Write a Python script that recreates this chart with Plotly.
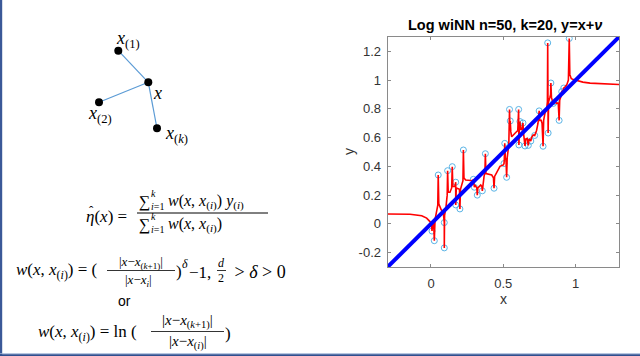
import plotly.graph_objects as go

# ---------------- data ----------------
pts_x = [0.007, 0.023, 0.050, 0.092, 0.092, 0.115, 0.147, 0.171, 0.171, 0.200,
         0.224, 0.293, 0.300, 0.320, 0.355, 0.376, 0.436, 0.505, 0.510, 0.523,
         0.543, 0.548, 0.606, 0.608, 0.615, 0.636, 0.650, 0.673, 0.690, 0.717,
         0.748, 0.775, 0.807, 0.810, 0.829, 0.846, 0.860, 0.886, 0.904, 0.918,
         0.956]
pts_y = [-0.050, -0.117, 0.340, 0.009, -0.167, 0.370, 0.398, 0.290, 0.132, 0.104,
         0.514, 0.310, 0.255, 0.200, 0.230, 0.488, 0.248, 0.420, 0.560, 0.324,
         0.796, 0.716, 0.796, 0.549, 0.712, 0.702, 0.542, 0.546, 0.576, 0.615,
         0.786, 0.540, 1.259, 0.632, 0.980, 0.838, 0.850, 0.720, 0.920, 0.945,
         1.290]

# Log wiNN estimate (red curve), vertices
fit_x = [-0.300, -0.200, -0.145, -0.064, -0.030, -0.007, 0.003, 0.007, 0.011, 0.018,
         0.023, 0.028, 0.040, 0.047, 0.050, 0.054, 0.070, 0.085, 0.092, 0.092,
         0.094, 0.104, 0.112, 0.115, 0.119, 0.131, 0.143, 0.147, 0.151, 0.165,
         0.171, 0.171, 0.175, 0.197, 0.200, 0.204, 0.215, 0.221, 0.224, 0.228,
         0.240, 0.270, 0.290, 0.293, 0.297, 0.300, 0.305, 0.317, 0.320, 0.324,
         0.344, 0.352, 0.355, 0.359, 0.367, 0.373, 0.376, 0.380, 0.420, 0.432,
         0.436, 0.440, 0.450, 0.477, 0.500, 0.505, 0.507, 0.510, 0.514, 0.519,
         0.523, 0.527, 0.538, 0.543, 0.546, 0.548, 0.552, 0.558, 0.581, 0.600,
         0.606, 0.607, 0.608, 0.611, 0.615, 0.619, 0.627, 0.632, 0.636, 0.640,
         0.645, 0.650, 0.655, 0.665, 0.673, 0.678, 0.686, 0.690, 0.695, 0.707,
         0.717, 0.722, 0.730, 0.740, 0.748, 0.752, 0.762, 0.768, 0.775, 0.779,
         0.788, 0.800, 0.805, 0.807, 0.809, 0.810, 0.813, 0.822, 0.827, 0.829,
         0.833, 0.844, 0.846, 0.852, 0.860, 0.866, 0.880, 0.886, 0.890, 0.900,
         0.904, 0.910, 0.918, 0.925, 0.940, 0.950, 0.956, 0.960, 0.970, 0.985,
         1.005, 1.050, 1.100, 1.190, 1.300]
fit_y = [0.069, 0.068, 0.067, 0.056, 0.040, 0.016, 0.000, -0.050, 0.000, 0.020,
         -0.117, 0.030, 0.110, 0.130, 0.340, 0.140, 0.100, 0.080, 0.009, -0.167,
         0.060, 0.120, 0.200, 0.370, 0.220, 0.220, 0.250, 0.398, 0.260, 0.260,
         0.290, 0.132, 0.250, 0.240, 0.104, 0.240, 0.270, 0.300, 0.514, 0.320,
         0.305, 0.305, 0.300, 0.310, 0.280, 0.255, 0.270, 0.250, 0.200, 0.250,
         0.270, 0.260, 0.230, 0.280, 0.330, 0.360, 0.488, 0.350, 0.340, 0.320,
         0.248, 0.330, 0.350, 0.400, 0.410, 0.420, 0.450, 0.560, 0.460, 0.440,
         0.324, 0.460, 0.550, 0.796, 0.650, 0.716, 0.640, 0.606, 0.630, 0.650,
         0.796, 0.650, 0.549, 0.660, 0.712, 0.660, 0.653, 0.670, 0.702, 0.630,
         0.595, 0.542, 0.590, 0.595, 0.546, 0.590, 0.583, 0.576, 0.600, 0.618,
         0.615, 0.630, 0.650, 0.700, 0.786, 0.720, 0.720, 0.700, 0.540, 0.720,
         0.770, 0.800, 0.850, 1.259, 0.860, 0.632, 0.850, 0.880, 0.900, 0.980,
         0.880, 0.840, 0.838, 0.840, 0.850, 0.840, 0.840, 0.720, 0.860, 0.890,
         0.920, 0.920, 0.945, 0.950, 0.970, 1.000, 1.290, 1.040, 1.010, 1.005,
         0.998, 0.986, 0.979, 0.974, 0.970]

truth_x = [-0.3, 1.3]          # y = x reference line
truth_y = [-0.3, 1.3]

x_ticks = [0, 0.5, 1]
x_tick_labels = ["0", "0.5", "1"]
y_ticks = [-0.2, 0, 0.2, 0.4, 0.6, 0.8, 1.0, 1.2]
y_tick_labels = ["-0.2", "0", "0.2", "0.4", "0.6", "0.8", "1", "1.2"]

# sketch of neighbours (slide pixel coordinates): centre x, then x(1), x(2), x(k)
node_x = [148.3, 118.3, 99.0, 157.0]
node_y = [82.3, 50.7, 102.3, 128.3]

W, H = 640, 356
fig = go.Figure()

# ---------------- right: the Matlab plot ----------------
fig.add_trace(go.Scatter(x=pts_x, y=pts_y, mode="markers",
                         marker=dict(symbol="circle-open", size=6,
                                     color="#5AB4E6", line=dict(width=1)),
                         hoverinfo="skip", showlegend=False))
fig.add_trace(go.Scatter(x=fit_x, y=fit_y, mode="lines",
                         line=dict(color="#FF0000", width=1.6),
                         hoverinfo="skip", showlegend=False))
fig.add_trace(go.Scatter(x=truth_x, y=truth_y, mode="lines",
                         line=dict(color="#0000FF", width=4),
                         hoverinfo="skip", showlegend=False))

# ---------------- left: neighbour sketch ----------------
edge_x, edge_y = [], []
for i in range(1, len(node_x)):
    edge_x += [node_x[0], node_x[i], None]
    edge_y += [node_y[0], node_y[i], None]
fig.add_trace(go.Scatter(x=edge_x, y=edge_y, xaxis="x2", yaxis="y2", mode="lines",
                         line=dict(color="#5B9BD5", width=1.2),
                         hoverinfo="skip", showlegend=False))
fig.add_trace(go.Scatter(x=node_x, y=node_y, xaxis="x2", yaxis="y2", mode="markers",
                         marker=dict(color="black", size=8),
                         hoverinfo="skip", showlegend=False))

axis_col = "#8A8A8A"
tick_font = dict(family="Liberation Sans, Arial, sans-serif", size=13, color="#333333")
x0p, x1p, y0p, y1p = 387.6, 619.0, 37.0, 267.0
fig.update_layout(
    width=W, height=H, margin=dict(l=0, r=0, t=0, b=0),
    paper_bgcolor="white", plot_bgcolor="rgba(0,0,0,0)",
    showlegend=False,
    xaxis=dict(domain=[x0p / W, x1p / W], range=[-0.3, 1.3], anchor="y",
               tickvals=x_ticks, ticktext=x_tick_labels, ticks="inside", ticklen=3,
               tickcolor=axis_col, showline=True, linecolor=axis_col, linewidth=1,
               mirror="ticks", showgrid=False, zeroline=False, tickfont=tick_font,
               ticklabelstandoff=4),
    yaxis=dict(domain=[1 - y1p / H, 1 - y0p / H], range=[-0.3, 1.3], anchor="x",
               tickvals=y_ticks, ticktext=y_tick_labels, ticks="inside", ticklen=3,
               tickcolor=axis_col, showline=True, linecolor=axis_col, linewidth=1,
               mirror="ticks", showgrid=False, zeroline=False, tickfont=tick_font,
               ticklabelstandoff=3),
    xaxis2=dict(domain=[0, 1], range=[0, W], anchor="y2", visible=False),
    yaxis2=dict(domain=[0, 1], range=[H, 0], anchor="x2", visible=False),
)

serif = "Liberation Serif, Times New Roman, serif"
sans = "Liberation Sans, Arial, sans-serif"
ann = []


def txt(x, y, s, size=17, anchor="left", family=serif, color="black"):
    ann.append(dict(x=x, y=y, xref="x2", yref="y2", text=s, showarrow=False,
                    xanchor=anchor, yanchor="middle",
                    font=dict(family=family, size=size, color=color)))


shapes = []


def bar(xa, xb, y, w=1):
    shapes.append(dict(type="line", xref="x2", yref="y2", x0=xa, x1=xb, y0=y, y1=y,
                       line=dict(color="black", width=w)))


# plot title and axis labels
txt(505, 25, "<b>Log wiNN n=50, k=20, y=x+<i>ν</i></b>", 14.5, "center", sans, "black")
txt(503, 299, "x", 14, "center", sans, "#333333")
ann.append(dict(x=349, y=152, xref="x2", yref="y2", text="y", showarrow=False,
                textangle=-90, xanchor="center", yanchor="middle",
                font=dict(family=sans, size=14, color="#333333")))

# sketch labels
txt(128, 39, "<i>x</i><sub>(1)</sub>", 18, "center")
txt(157, 93, "<i>x</i>", 18, "center")
txt(100, 114, "<i>x</i><sub>(2)</sub>", 18, "center")
txt(176, 134, "<i>x</i><sub>(<i>k</i>)</sub>", 18, "center")

# formula 1
txt(84, 216, "<i>η</i>(<i>x</i>) =", 17)
txt(91, 210, "ˆ", 13, "center")
for yy in (202, 225):
    txt(137, yy, "∑", 16)
    txt(149, yy - 9, "<i>k</i>", 10)
    txt(149, yy + 4, "<i>i</i>=1", 10)
txt(166, 202, "<i>w</i>(<i>x</i>, <i>x</i><sub>(<i>i</i>)</sub>) <i>y</i><sub>(<i>i</i>)</sub>", 16)
txt(166, 225, "<i>w</i>(<i>x</i>, <i>x</i><sub>(<i>i</i>)</sub>)", 16)
bar(137, 268, 213)

# formula 2
txt(14, 271, "<i>w</i>(<i>x</i>, <i>x</i><sub>(<i>i</i>)</sub>) = (", 17)
txt(141, 262, "|<i>x</i>−<i>x</i><sub>(<i>k</i>+1)</sub>|", 13, "center")
bar(107, 175, 270.5, 0.8)
txt(138, 280, "|<i>x</i>−<i>x<sub>i</sub></i>|", 13, "center")
txt(174, 271, ")", 17)
txt(180, 264, "<i>δ</i>", 12)
txt(187, 272, "−1,", 17)
txt(221, 263, "<i>d</i>", 12, "center")
bar(217, 226, 270.5, 0.8)
txt(221, 278, "2", 12, "center")
txt(228, 272, "&nbsp;&gt;&nbsp;<i>δ</i>&nbsp;&gt;&nbsp;0", 18)
txt(124.5, 301, "or", 14, "center", sans)

# formula 3
txt(36, 333, "<i>w</i>(<i>x</i>, <i>x</i><sub>(<i>i</i>)</sub>) = ln (", 17)
txt(187, 321, "|<i>x</i>−<i>x</i><sub>(<i>k</i>+1)</sub>|", 15, "center")
bar(151, 224, 331.5, 0.8)
txt(188, 342, "|<i>x</i>−<i>x</i><sub>(<i>i</i>)</sub>|", 15, "center")
txt(223, 333, ")", 17)

# slide frame
shapes.append(dict(type="rect", xref="x2", yref="y2", x0=0, x1=2.2, y0=0, y1=H,
                   line=dict(width=0), fillcolor="#3B5998"))
shapes.append(dict(type="rect", xref="x2", yref="y2", x0=0, x1=W, y0=353.2, y1=354.2,
                   line=dict(width=0), fillcolor="#9FB3D6"))
shapes.append(dict(type="rect", xref="x2", yref="y2", x0=0, x1=W, y0=354.2, y1=H,
                   line=dict(width=0), fillcolor="#2F4F8F"))

fig.update_layout(annotations=ann, shapes=shapes)
fig.write_html("out.html", config={"displayModeBar": False},
               post_script="document.body.style.margin='0';"
                           "document.body.style.overflow='hidden';")
